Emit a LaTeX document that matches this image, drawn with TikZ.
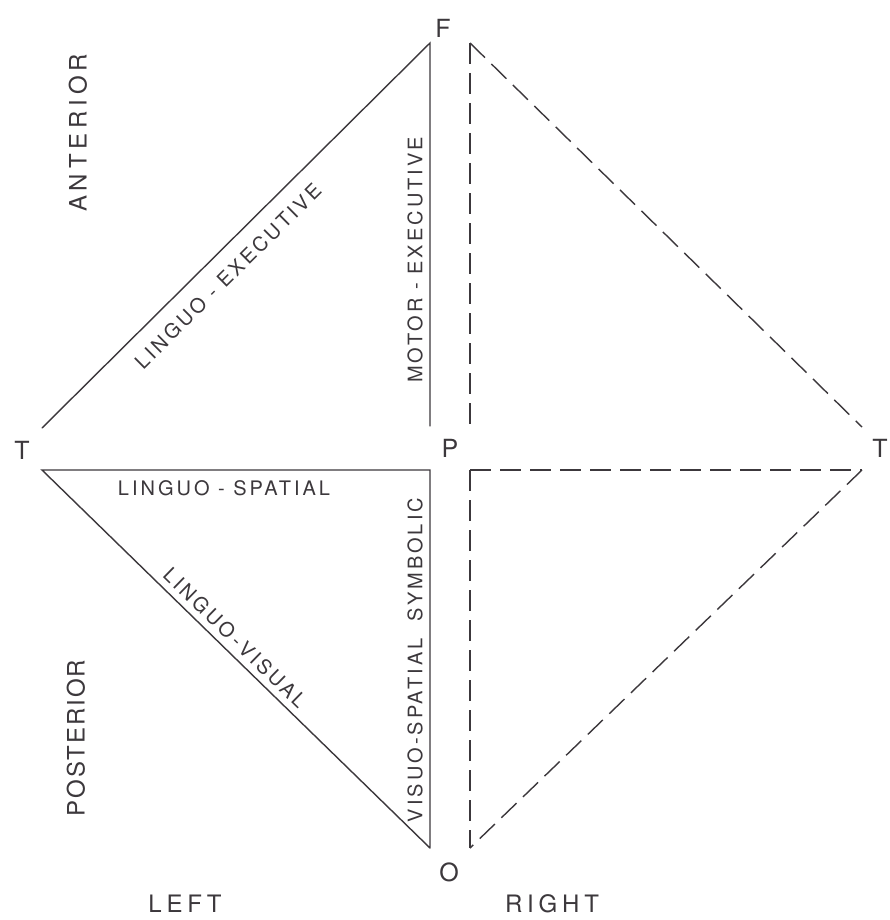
\documentclass[tikz,border=0pt]{standalone}
\usepackage{fontspec}
\setmainfont{TeX Gyre Heros}
\newfontfamily\labfont[LetterSpace=15]{TeX Gyre Heros}
\newfontfamily\sidefont[LetterSpace=8]{TeX Gyre Heros}
\newfontfamily\widefont[LetterSpace=20]{TeX Gyre Heros}
\definecolor{ink}{HTML}{3C383C}
\begin{document}
\begin{tikzpicture}[x=1pt,y=1pt,
  solidline/.style={draw=ink, line width=1.4pt, line cap=round, line join=miter},
  dashline/.style={draw=ink, line width=1.4pt, dash pattern=on 21pt off 9pt},
  vertex/.style={text=ink, font=\fontsize{25}{25}\selectfont, inner sep=0pt},
  lab/.style={text=ink, font=\labfont\fontsize{20}{20}\selectfont, inner sep=0pt},
  side/.style={text=ink, font=\sidefont\fontsize{24}{24}\selectfont, inner sep=0pt},
  wideside/.style={text=ink, font=\widefont\fontsize{24}{24}\selectfont, inner sep=0pt}]
\useasboundingbox (0,0) rectangle (889,-920);
\fill[white] (0,0) rectangle (889,-920);
% vertices
\coordinate (a1) at (42,-428);
\coordinate (a2) at (430,-43);
\coordinate (a3) at (430,-426);
\coordinate (b1) at (42,-470);
\coordinate (b2) at (430,-470);
\coordinate (b3) at (430,-848);
\coordinate (c1) at (470,-43);
\coordinate (c2) at (470,-426);
\coordinate (c3) at (862,-427);
\coordinate (d1) at (470,-470);
\coordinate (d2) at (862,-470);
\coordinate (d3) at (470,-848);
% left solid triangles
\draw[solidline] (a1) -- (a2) -- (a3);
\draw[solidline] (b3) -- (b1) -- (b2) -- (b3);
% right dashed triangles
\draw[dashline] (c1) -- (c2);
\draw[dashline] (c1) -- (c3);
\draw[dashline] (d1) -- (d2);
\draw[dashline] (d1) -- (d3);
\draw[dashline] (d2) -- (d3);
% vertex letters
\node[vertex] (F) at (443,-28) {F};
\node[vertex] (TL) at (22,-450) {T};
\node[vertex] (P) at (450,-448) {P};
\node[vertex] (TR) at (880,-448) {T};
\node[vertex] (O) at (449,-872) {O};
% edge labels
\node[lab, rotate=44.8] (le) at (228,-276) {LINGUO - EXECUTIVE};
\node[lab, rotate=90] (me) at (415,-260) {MOTOR - EXECUTIVE};
\node[lab] (ls) at (224,-488) {LINGUO - SPATIAL};
\node[lab, rotate=-44.3] (lv) at (235,-638) {LINGUO\,-\,VISUAL};
\node[lab, rotate=90] (vs) at (415,-660) {VISUO-SPATIAL\ \ SYMBOLIC};
% side labels
\node[wideside, rotate=90] (ant) at (78,-133) {ANTERIOR};
\node[side, rotate=90] (post) at (76,-738) {POSTERIOR};
\node[wideside] (left) at (185,-904) {LEFT};
\node[wideside] (right) at (552,-904) {RIGHT};
\end{tikzpicture}
\end{document}
